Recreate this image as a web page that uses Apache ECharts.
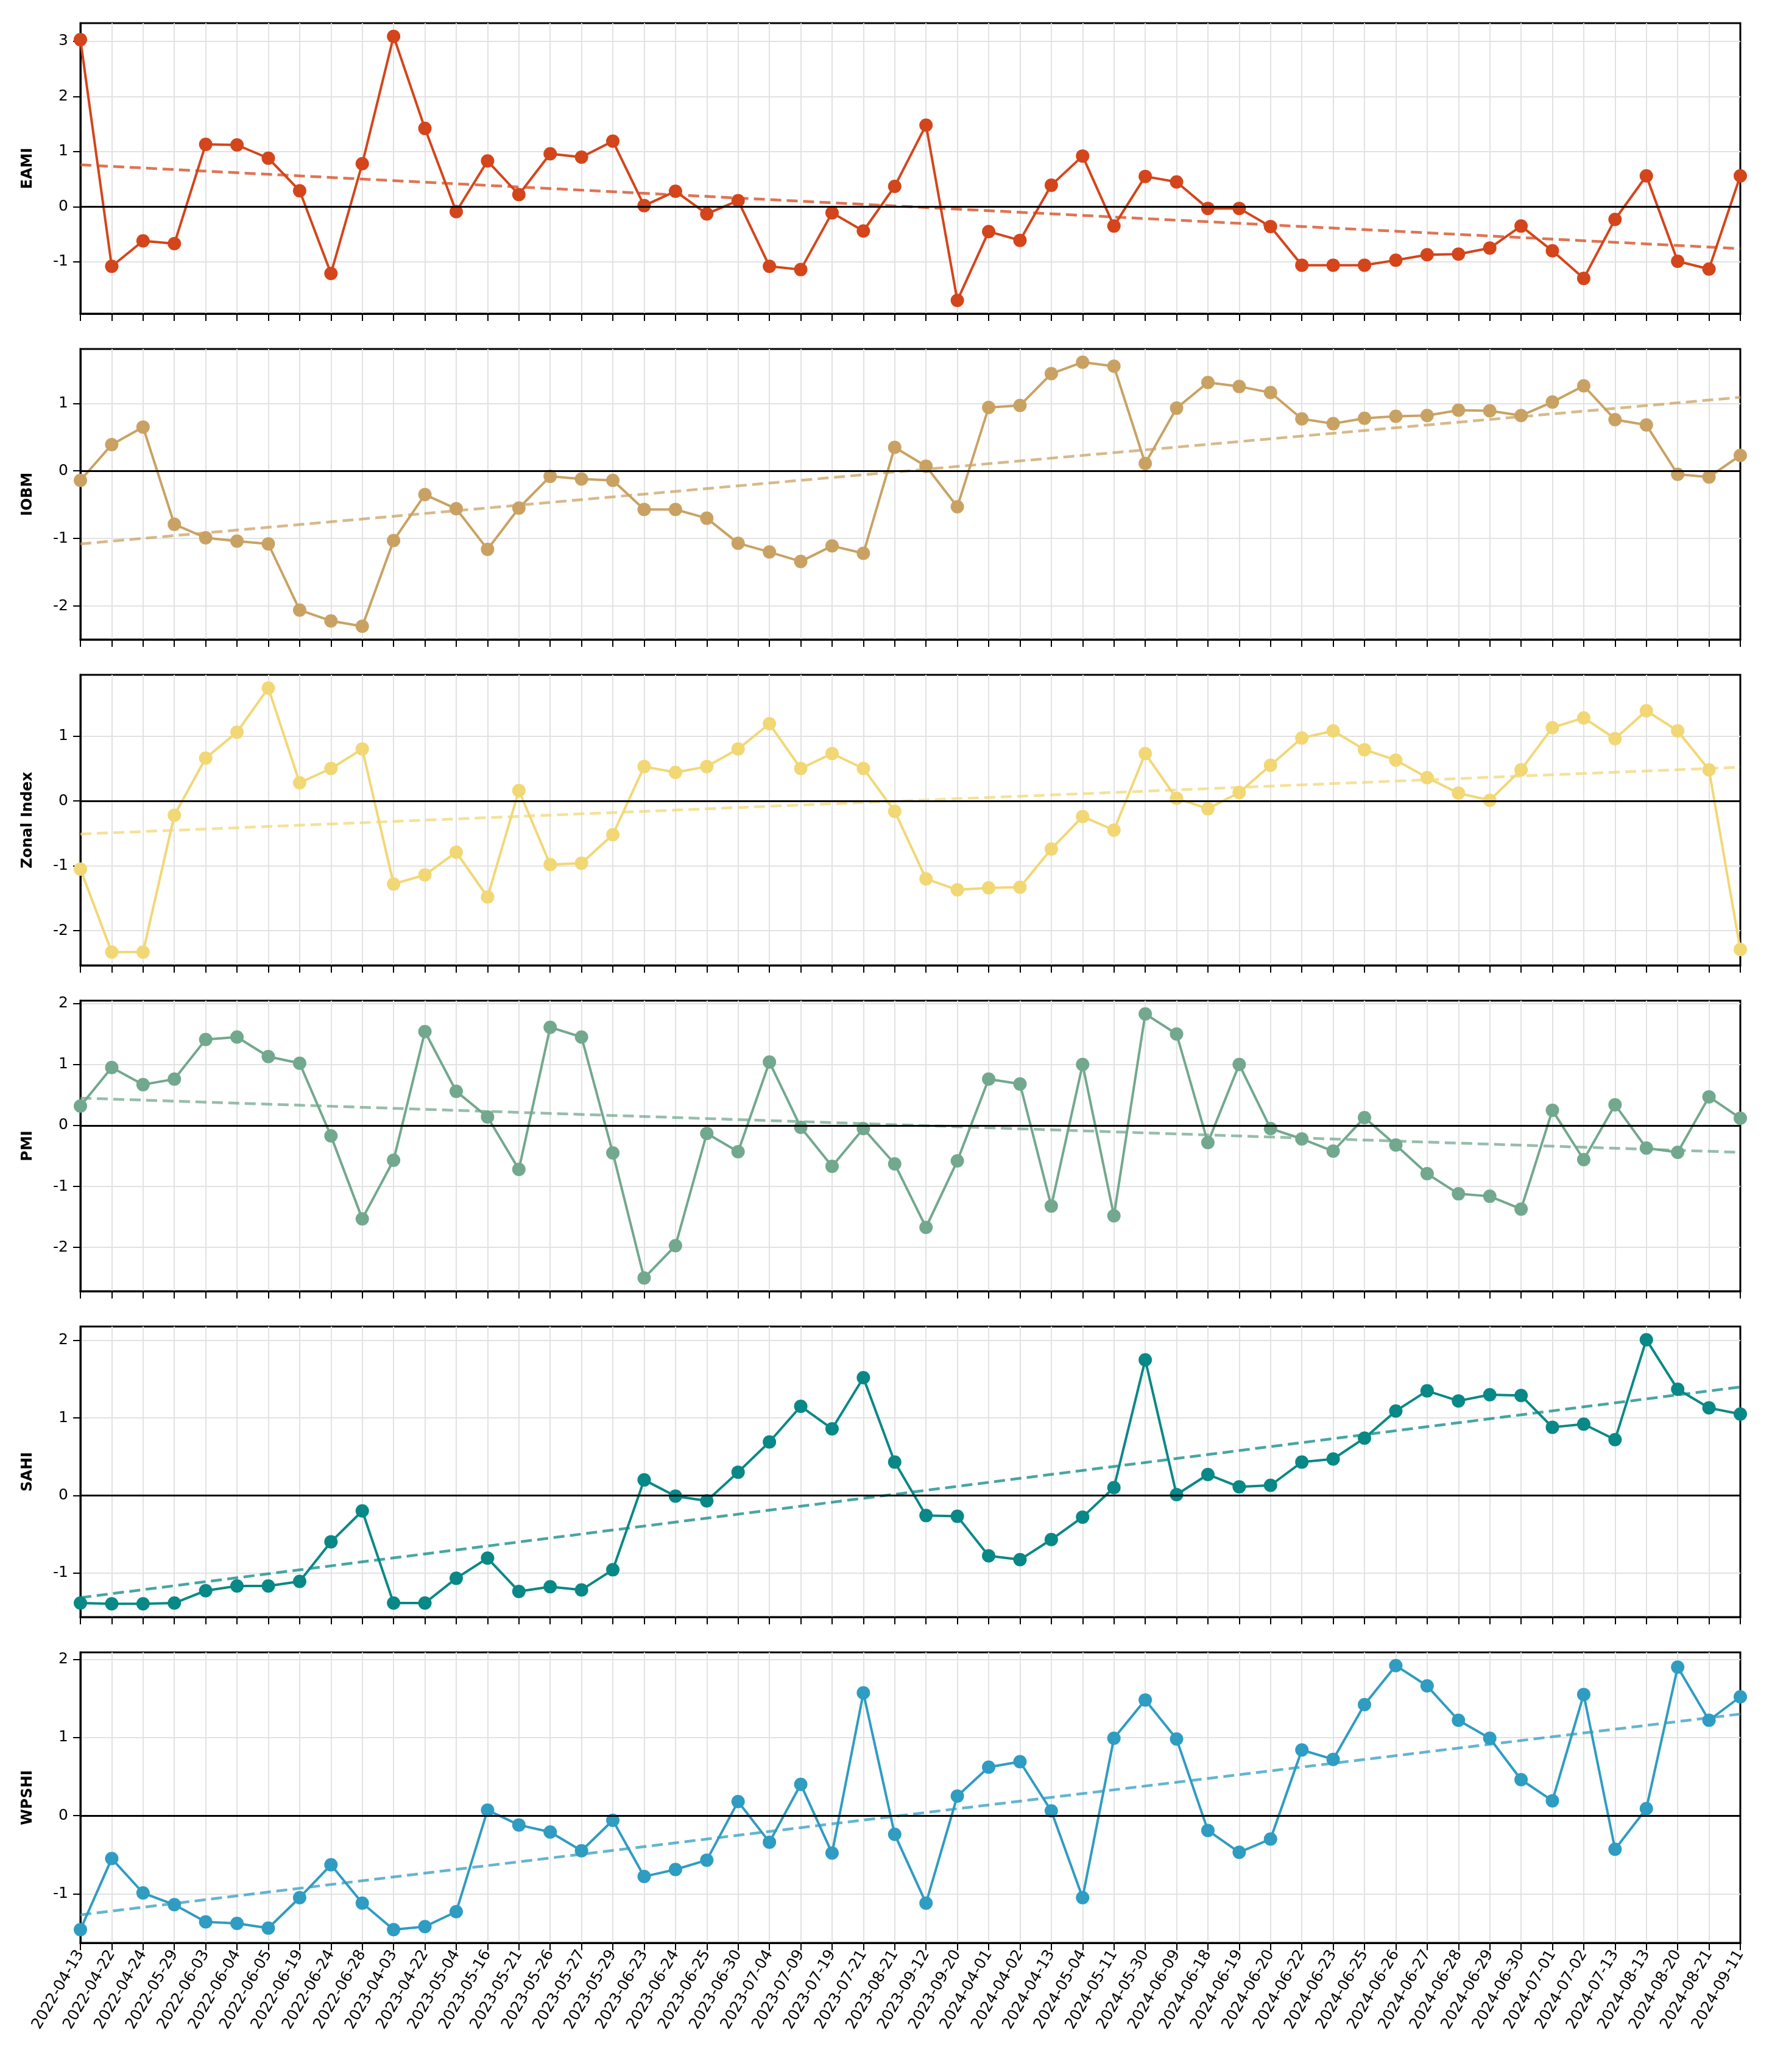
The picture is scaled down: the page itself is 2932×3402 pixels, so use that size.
<!DOCTYPE html>
<html>
<head>
<meta charset="utf-8">
<title>Climate indices</title>
<script src="https://cdn.jsdelivr.net/npm/echarts@6/dist/echarts.min.js"></script>
<style>
  html, body { margin: 0; padding: 0; background: #fff; }
  #chart { width: 2932px; height: 3402px; }
</style>
</head>
<body>
<div id="chart"></div>
<script>
const dates = [
  "2022-04-13", "2022-04-22", "2022-04-24", "2022-05-29", "2022-06-03", "2022-06-04",
  "2022-06-05", "2022-06-19", "2022-06-24", "2022-06-28", "2023-04-03", "2023-04-22",
  "2023-05-04", "2023-05-16", "2023-05-21", "2023-05-26", "2023-05-27", "2023-05-29",
  "2023-06-23", "2023-06-24", "2023-06-25", "2023-06-30", "2023-07-04", "2023-07-09",
  "2023-07-19", "2023-07-21", "2023-08-21", "2023-09-12", "2023-09-20", "2024-04-01",
  "2024-04-02", "2024-04-13", "2024-05-04", "2024-05-11", "2024-05-30", "2024-06-09",
  "2024-06-18", "2024-06-19", "2024-06-20", "2024-06-22", "2024-06-23", "2024-06-25",
  "2024-06-26", "2024-06-27", "2024-06-28", "2024-06-29", "2024-06-30", "2024-07-01",
  "2024-07-02", "2024-07-13", "2024-08-13", "2024-08-20", "2024-08-21", "2024-09-11"
];

const eami = [
  3.03, -1.08, -0.62, -0.67, 1.13, 1.12, 0.88, 0.29, -1.21, 0.78,
  3.09, 1.42, -0.09, 0.83, 0.22, 0.96, 0.90, 1.19, 0.02, 0.28,
  -0.13, 0.11, -1.08, -1.14, -0.11, -0.44, 0.37, 1.48, -1.70, -0.45,
  -0.61, 0.39, 0.92, -0.35, 0.55, 0.45, -0.03, -0.03, -0.36, -1.06,
  -1.06, -1.06, -0.97, -0.87, -0.86, -0.75, -0.35, -0.80, -1.30, -0.23,
  0.56, -0.99, -1.13, 0.56
];
const iobm = [
  -0.14, 0.39, 0.65, -0.79, -0.99, -1.04, -1.08, -2.06, -2.22, -2.30,
  -1.03, -0.35, -0.56, -1.16, -0.55, -0.08, -0.12, -0.14, -0.57, -0.57,
  -0.70, -1.07, -1.20, -1.34, -1.11, -1.22, 0.35, 0.07, -0.53, 0.94,
  0.97, 1.44, 1.61, 1.55, 0.11, 0.93, 1.31, 1.25, 1.16, 0.77,
  0.70, 0.78, 0.81, 0.82, 0.90, 0.89, 0.82, 1.02, 1.26, 0.76,
  0.68, -0.05, -0.09, 0.23
];
const zonal = [
  -1.05, -2.33, -2.33, -0.22, 0.66, 1.06, 1.74, 0.28, 0.50, 0.80,
  -1.28, -1.14, -0.79, -1.48, 0.16, -0.98, -0.96, -0.52, 0.53, 0.44,
  0.53, 0.80, 1.19, 0.50, 0.73, 0.50, -0.16, -1.20, -1.37, -1.34,
  -1.33, -0.74, -0.24, -0.45, 0.73, 0.04, -0.12, 0.13, 0.55, 0.97,
  1.08, 0.79, 0.63, 0.36, 0.12, 0.01, 0.48, 1.13, 1.28, 0.96,
  1.39, 1.08, 0.48, -2.29
];
const pmi = [
  0.32, 0.95, 0.67, 0.76, 1.41, 1.45, 1.13, 1.02, -0.17, -1.53,
  -0.57, 1.54, 0.56, 0.14, -0.72, 1.61, 1.45, -0.45, -2.50, -1.97,
  -0.13, -0.43, 1.04, -0.03, -0.67, -0.05, -0.63, -1.67, -0.58, 0.76,
  0.68, -1.32, 1.00, -1.48, 1.83, 1.50, -0.28, 1.00, -0.05, -0.22,
  -0.42, 0.13, -0.32, -0.79, -1.12, -1.16, -1.37, 0.25, -0.56, 0.34,
  -0.37, -0.44, 0.47, 0.12
];
const sahi = [
  -1.39, -1.40, -1.40, -1.39, -1.23, -1.17, -1.17, -1.11, -0.60, -0.20,
  -1.39, -1.39, -1.07, -0.81, -1.24, -1.18, -1.22, -0.96, 0.20, -0.01,
  -0.07, 0.30, 0.69, 1.15, 0.86, 1.52, 0.43, -0.26, -0.27, -0.78,
  -0.83, -0.57, -0.28, 0.10, 1.75, 0.01, 0.27, 0.11, 0.13, 0.43,
  0.47, 0.74, 1.09, 1.35, 1.22, 1.30, 1.29, 0.88, 0.92, 0.72,
  2.01, 1.37, 1.13, 1.05
];
const wpshi = [
  -1.46, -0.55, -0.99, -1.14, -1.36, -1.38, -1.44, -1.05, -0.63, -1.12,
  -1.46, -1.42, -1.23, 0.07, -0.12, -0.21, -0.45, -0.06, -0.78, -0.69,
  -0.57, 0.18, -0.34, 0.40, -0.48, 1.57, -0.24, -1.12, 0.25, 0.62,
  0.69, 0.06, -1.05, 0.99, 1.48, 0.98, -0.19, -0.47, -0.30, 0.84,
  0.72, 1.42, 1.92, 1.66, 1.22, 0.99, 0.46, 0.19, 1.55, -0.43,
  0.09, 1.90, 1.22, 1.52
];

// trend line ends (first date, last date)
const eamiTrend = [0.76, -0.76];
const iobmTrend = [-1.08, 1.09];
const zonalTrend = [-0.51, 0.52];
const pmiTrend = [0.45, -0.44];
const sahiTrend = [-1.32, 1.40];
const wpshiTrend = [-1.27, 1.30];

// y tick labels per panel
const eamiTicks = [-1, 0, 1, 2, 3];
const iobmTicks = [-2, -1, 0, 1];
const zonalTicks = [-2, -1, 0, 1];
const pmiTicks = [-2, -1, 0, 1, 2];
const sahiTicks = [-1, 0, 1, 2];
const wpshiTicks = [-1, 0, 1, 2];

const names = ["EAMI", "IOBM", "Zonal Index", "PMI", "SAHI", "WPSHI"];
const colors = ["#d4451b", "#c9a263", "#f2d775", "#72a88e", "#088886", "#2f9cc2"];

const panels = [
  { values: eami, trend: eamiTrend, ticks: eamiTicks },
  { values: iobm, trend: iobmTrend, ticks: iobmTicks },
  { values: zonal, trend: zonalTrend, ticks: zonalTicks },
  { values: pmi, trend: pmiTrend, ticks: pmiTicks },
  { values: sahi, trend: sahiTrend, ticks: sahiTicks },
  { values: wpshi, trend: wpshiTrend, ticks: wpshiTicks }
];

const FONT = "DejaVu Sans";
const lastIdx = dates.length - 1;
const grids = [], xAxes = [], yAxes = [], series = [];

panels.forEach((p, i) => {
  const lo = Math.min(...p.values), hi = Math.max(...p.values);
  const pad = (hi - lo) * 0.05;
  const last = i === panels.length - 1;

  grids.push({
    left: 132, width: 2725, top: 38 + 535 * i, height: 477,
    show: true, borderColor: "#000", borderWidth: 3, backgroundColor: "transparent"
  });

  xAxes.push({
    gridIndex: i, type: "category", data: dates, boundaryGap: false, position: "bottom",
    axisLine: { show: true, onZero: false, lineStyle: { color: "#000", width: 3 } },
    axisTick: { show: true, interval: 0, length: 12, lineStyle: { color: "#000", width: 2 } },
    axisLabel: {
      show: last, interval: 0, rotate: 60, margin: 14,
      fontSize: 25, color: "#000", fontFamily: FONT
    },
    // skip the two edge lines so the black frame stays on top
    splitLine: {
      show: true, interval: idx => idx > 0 && idx < lastIdx,
      lineStyle: { color: "#e2e2e2", width: 2 }
    }
  });

  yAxes.push({
    gridIndex: i, type: "value", min: lo - pad, max: hi + pad,
    name: names[i], nameLocation: "middle", nameGap: 74, nameRotate: 90,
    nameTextStyle: { fontSize: 24, fontWeight: "bold", color: "#000", fontFamily: FONT },
    axisLine: { show: true, onZero: false, lineStyle: { color: "#000", width: 3 } },
    axisTick: { show: true, length: 12, customValues: p.ticks, lineStyle: { color: "#000", width: 2 } },
    axisLabel: {
      customValues: p.ticks, margin: 20, fontSize: 25, color: "#000", fontFamily: FONT,
      formatter: v => (Math.abs(v - Math.round(v)) < 1e-6 ? String(Math.round(v)) : "")
    },
    splitLine: { show: true, lineStyle: { color: "#e2e2e2", width: 2 } }
  });

  // dashed trend
  series.push({
    type: "line", xAxisIndex: i, yAxisIndex: i, data: [], z: 2, silent: true,
    markLine: {
      silent: true, symbol: "none", animation: false, label: { show: false },
      data: [
        [{ coord: [dates[0], p.trend[0]] }, { coord: [dates[lastIdx], p.trend[1]] }]
      ],
      lineStyle: { color: colors[i], width: 4.5, type: [18, 9], opacity: 0.75 }
    }
  });
  // zero line
  series.push({
    type: "line", xAxisIndex: i, yAxisIndex: i, data: [], z: 2, silent: true,
    markLine: {
      silent: true, symbol: "none", animation: false, label: { show: false },
      data: [{ yAxis: 0 }],
      lineStyle: { color: "#000", width: 3, type: "solid" }
    }
  });

  series.push({
    name: names[i], type: "line", xAxisIndex: i, yAxisIndex: i, data: p.values,
    symbol: "circle", symbolSize: 22, z: 4,
    lineStyle: { color: colors[i], width: 4 },
    itemStyle: { color: colors[i], borderWidth: 0 }
  });
});

const chart = echarts.init(document.getElementById("chart"));
chart.setOption({
  backgroundColor: "#fff",
  animation: false,
  grid: grids,
  xAxis: xAxes,
  yAxis: yAxes,
  series: series
});
</script>
</body>
</html>
